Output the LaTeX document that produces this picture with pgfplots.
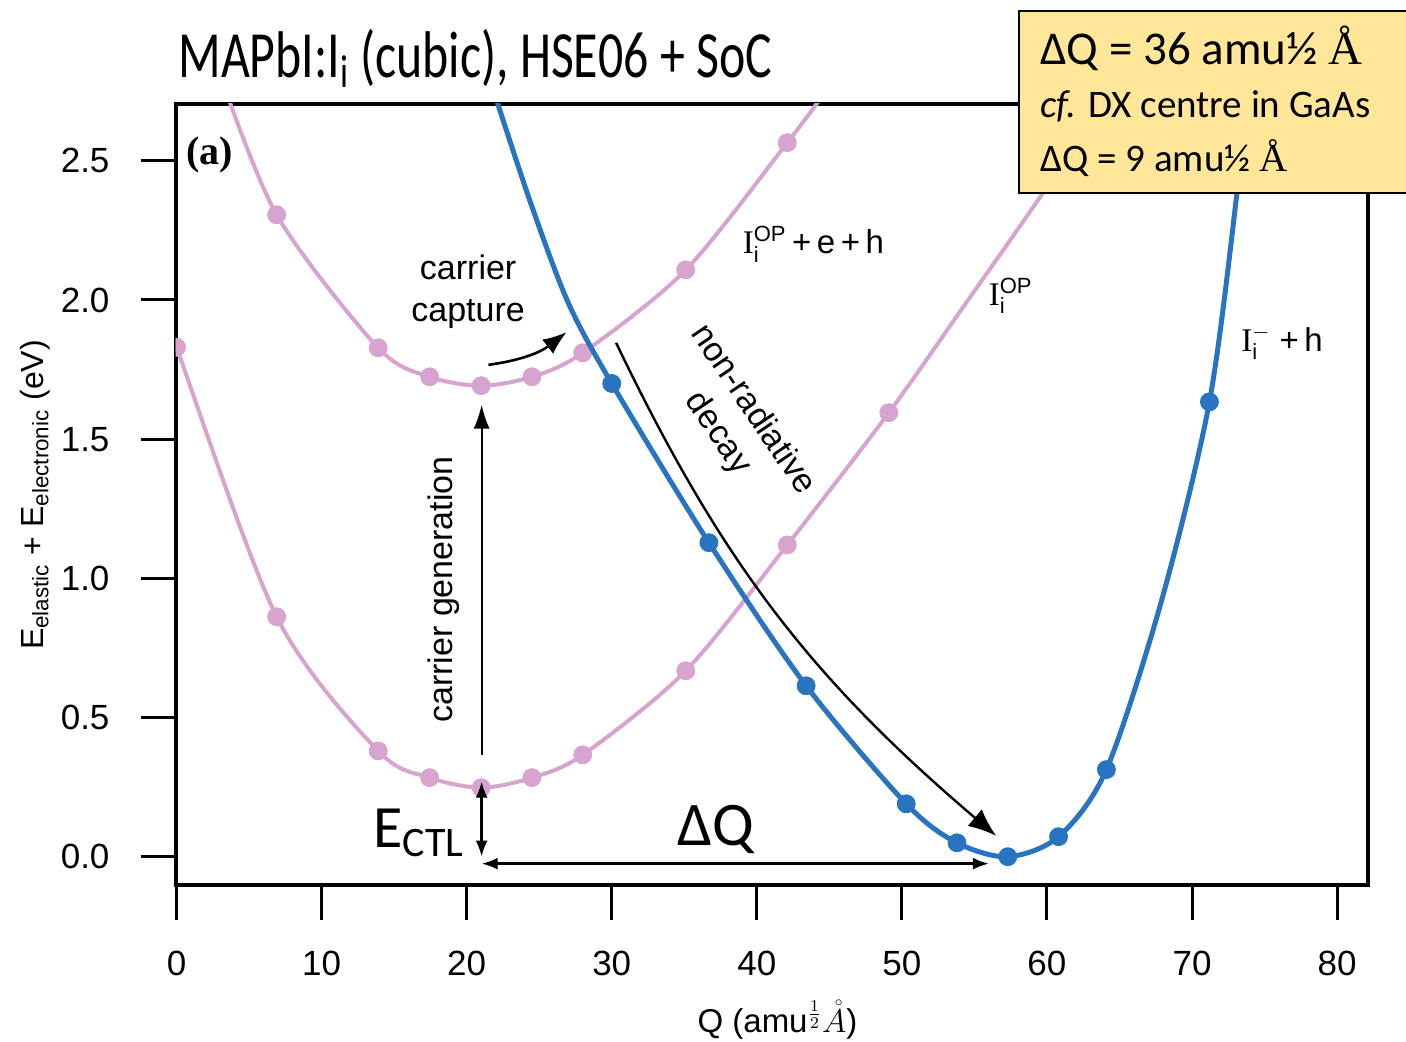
\RequirePackage{fix-cm}
\documentclass[border=0pt]{standalone}
\usepackage{pgfplots}
\pgfplotsset{compat=1.18}
\usepackage{fontspec}
\setmainfont{Liberation Sans}
\newfontfamily\carlito{Carlito}
\newfontfamily\lserif{Liberation Serif}
\usetikzlibrary{arrows.meta}
\definecolor{pinkc}{RGB}{214,164,206}
\definecolor{bluec}{RGB}{40,116,192}
\definecolor{boxy}{RGB}{255,230,153}
\newcommand{\Ii}[1]{{\lserif I}$^{\mbox{\fontsize{11}{11}\selectfont #1}}_{\mbox{\fontsize{11}{11}\selectfont i}}$}
\begin{document}
\begin{tikzpicture}[x=1pt,y=1pt]
\path[use as bounding box] (0,0) rectangle (703,521);
\begin{axis}[
  at={(121,56.5)}, anchor=south west,
  scale only axis, width=596pt, height=390.5pt,
  xmin=-0.07, xmax=82.1, ymin=-0.1006, ymax=2.705,
  axis line style={line width=2pt},
  xtick={0,10,...,80}, ytick={0,0.5,1,1.5,2,2.5},
  tick align=outside, xtick pos=bottom, ytick pos=left,
  major tick length=17.5pt,
  tick style={line width=1.5pt, black},
  tick label style={font=\fontsize{17.5}{20}\selectfont},
  /pgf/number format/assume math mode=true,
  xticklabel style={yshift=-12pt},
  yticklabel style={xshift=-12pt, /pgf/number format/.cd, fixed, fixed zerofill, precision=1},
  xlabel={Q (amu$^{\frac{1}{2}}\mathring{A}$)},
  xlabel style={at={(axis description cs:0.505,-0.173)}, anchor=center, font=\fontsize{16.5}{20}\selectfont},
  ylabel={E\textsubscript{elastic} + E\textsubscript{electronic} (eV)},
  ylabel style={at={(axis description cs:-0.118,0.499)}, anchor=center, font=\fontsize{16}{19}\selectfont},
  clip mode=individual,
  clip marker paths=true,
]
% lower pink curve (I_i^OP)
\addplot[pinkc, line width=2pt, smooth] coordinates {
(-0.6,1.93) (0,1.83) (6.9,0.862) (13.9,0.38) (17.45,0.284) (21.0,0.248) (24.5,0.284) (28.0,0.366) (35.1,0.668) (42.1,1.12) (49.1,1.595) (54.3,1.98) (59.4,2.36) (64,2.72)};
\addplot[only marks, mark=*, mark size=4.5pt, pinkc] coordinates {
(0,1.83) (6.9,0.862) (13.9,0.38) (17.45,0.284) (21.0,0.248) (24.5,0.284) (28.0,0.366) (35.1,0.668) (42.1,1.12) (49.1,1.595)};
% upper pink curve (I_i^OP + e + h)
\addplot[pinkc, line width=2pt, smooth] coordinates {
(2.8,2.84) (6.9,2.306) (13.9,1.828) (17.45,1.724) (21.0,1.692) (24.5,1.724) (28.0,1.81) (35.1,2.108) (42.1,2.565) (44.9,2.76)};
\addplot[only marks, mark=*, mark size=4.5pt, pinkc] coordinates {
(6.9,2.306) (13.9,1.828) (17.45,1.724) (21.0,1.692) (24.5,1.724) (28.0,1.81) (35.1,2.108) (42.1,2.565)};
% blue curve (I_i^- + h)
\addplot[bluec, line width=2.5pt, smooth] coordinates {
(21.8,2.76) (24.4,2.35) (27.0,1.99) (30.0,1.70) (36.7,1.128) (43.4,0.614) (50.3,0.19) (53.8,0.05) (57.3,0.0) (60.8,0.072) (64.1,0.313) (67.9,0.92) (71.2,1.634) (73.1,2.385) (73.8,2.75)};
\addplot[only marks, mark=*, mark size=4.5pt, bluec] coordinates {
(30.0,1.70) (36.7,1.128) (43.4,0.614) (50.3,0.19) (53.8,0.05) (57.3,0.0) (60.8,0.072) (64.1,0.313) (71.2,1.634)};
% annotations
\node[font=\fontsize{20}{24}\selectfont\lserif\bfseries] at (axis cs:2.3,2.52) {(a)};
\node[font=\fontsize{17}{21}\selectfont, align=center] at (axis cs:20.1,2.03) {carrier\\capture};
\draw[-{Latex[length=12pt,width=9pt]}, line width=1.3pt] (axis cs:21.5,1.767) to[bend right=15] (axis cs:26.9,1.885);
\node[font=\fontsize{17}{21}\selectfont, rotate=90] at (axis cs:18.4,0.96) {carrier generation};
\draw[-{Latex[length=12pt,width=8pt]}, line width=1pt] (axis cs:21.03,0.366) -- (axis cs:21.03,1.624);
\node[font=\fontsize{17}{21}\selectfont, rotate=-56, align=center] at (axis cs:38.5,1.562) {non-radiative\\decay};
\draw[-{Latex[length=14pt,width=11pt]}, line width=1.2pt] (axis cs:30.3,1.846) to[bend right=12] (axis cs:56.5,0.075);
\draw[{Latex[length=8pt,width=6pt]}-{Latex[length=8pt,width=6pt]}, line width=1.3pt] (axis cs:21.03,0.27) -- (axis cs:21.03,0.0);
\draw[{Latex[length=8pt,width=6pt]}-{Latex[length=8pt,width=6pt]}, line width=1.3pt] (axis cs:21.03,-0.025) -- (axis cs:56.0,-0.025);
\node[font=\carlito\fontsize{30}{36}\selectfont] at (axis cs:16.7,0.086) {E\textsubscript{CTL}};
\node[font=\carlito\fontsize{31}{36}\selectfont] at (axis cs:37.2,0.097) {ΔQ};
\node[font=\fontsize{16.5}{20}\selectfont] at (axis cs:43.9,2.2) {\Ii{OP}\,+\,e\,+\,h};
\node[font=\fontsize{16.5}{20}\selectfont] at (axis cs:57.5,2.015) {\Ii{OP}};
\node[font=\fontsize{16.5}{20}\selectfont] at (axis cs:76.2,1.846) {\Ii{$-$}\;+\,h};
\end{axis}
% title
\node[anchor=base west, font=\carlito\fontsize{33}{40}\selectfont, inner sep=0pt] at (89,482) {\scalebox{0.755}[1]{MAPbI:I\textsubscript{i} (cubic), HSE06 + SoC}};
% yellow box
\draw[fill=boxy, line width=1pt] (509.5,424.5) rectangle (706,515.5);
\node[anchor=base west, font=\carlito\fontsize{23.5}{28}\selectfont, inner sep=0pt] at (520,488.5) {ΔQ = 36 amu½ {\lserif Å}};
\node[anchor=base west, font=\carlito\fontsize{19.5}{24}\selectfont, inner sep=0pt] at (520,462) {\textit{cf.} DX centre in GaAs};
\node[anchor=base west, font=\carlito\fontsize{19.5}{24}\selectfont, inner sep=0pt] at (520,435) {ΔQ = 9 amu½ {\lserif Å}};
\end{tikzpicture}
\end{document}
